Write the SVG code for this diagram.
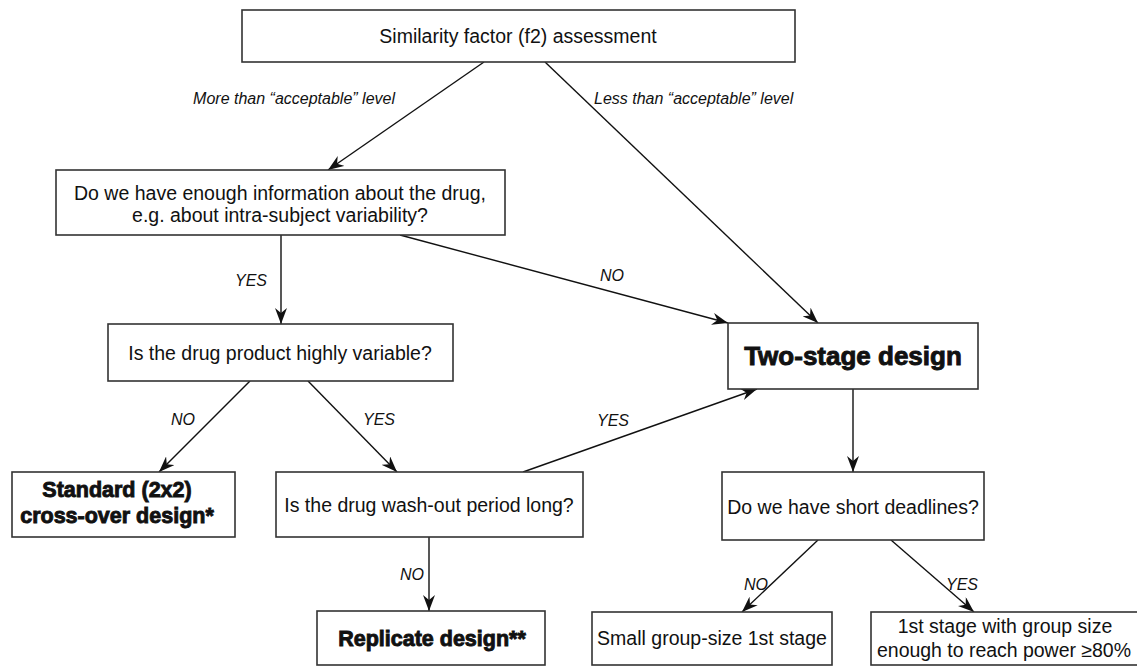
<svg xmlns="http://www.w3.org/2000/svg" width="1137" height="668" viewBox="0 0 1137 668">
<style>
.box{fill:#fff;stroke:#333;stroke-width:1.6}
.t{font-family:"Liberation Sans",Arial,sans-serif;font-size:19.5px;fill:#111;text-anchor:middle}
.b{font-family:"Liberation Sans",Arial,sans-serif;font-size:21.5px;font-weight:bold;fill:#111;stroke:#111;stroke-width:0.9;text-anchor:middle}
.lbl{font-family:"Liberation Sans",Arial,sans-serif;font-size:16px;font-style:italic;fill:#111}
.c{stroke:#111;stroke-width:1.4;fill:none;marker-end:url(#arr)}
</style>
<defs>
<marker id="arr" viewBox="0 0 16 12" refX="16" refY="6" markerWidth="16" markerHeight="12" markerUnits="userSpaceOnUse" orient="auto">
<path d="M0,0 L16,6 L0,12 L5,6 z" fill="#111"/>
</marker>
</defs>
<rect width="1137" height="668" fill="#fff"/>
<g id="connectors">
<line class="c" x1="484" y1="62" x2="328" y2="170"/>
<line class="c" x1="545" y1="62" x2="818" y2="323"/>
<line class="c" x1="281" y1="235" x2="281" y2="324"/>
<line class="c" x1="400" y1="235" x2="728" y2="323"/>
<line class="c" x1="250" y1="381" x2="159" y2="472"/>
<line class="c" x1="308" y1="381" x2="397" y2="472"/>
<line class="c" x1="523" y1="472" x2="757" y2="389"/>
<line class="c" x1="429" y1="537" x2="429" y2="611"/>
<line class="c" x1="853" y1="389" x2="853" y2="472"/>
<line class="c" x1="818" y1="540" x2="742" y2="612"/>
<line class="c" x1="891" y1="540" x2="974" y2="612"/>
<text class="lbl" x="395" y="104" text-anchor="end">More than “acceptable” level</text>
<text class="lbl" x="594" y="104">Less than “acceptable” level</text>
<text class="lbl" x="235" y="286">YES</text>
<text class="lbl" x="600" y="281">NO</text>
<text class="lbl" x="171" y="425">NO</text>
<text class="lbl" x="363" y="425">YES</text>
<text class="lbl" x="597" y="426">YES</text>
<text class="lbl" x="400" y="580">NO</text>
<text class="lbl" x="744" y="590">NO</text>
<text class="lbl" x="946" y="590">YES</text>
</g>
<g id="n-similarity">
<rect class="box" x="242" y="10" width="553" height="52"/>
<text class="t" x="518" y="43">Similarity factor (f2) assessment</text>
</g>
<g id="n-info">
<rect class="box" x="56" y="170" width="449" height="65"/>
<text class="t" x="280" y="200">Do we have enough information about the drug,</text>
<text class="t" x="280" y="222">e.g. about intra-subject variability?</text>
</g>
<g id="n-variable">
<rect class="box" x="108" y="324" width="345" height="57"/>
<text class="t" x="280" y="360">Is the drug product highly variable?</text>
</g>
<g id="n-twostage">
<rect class="box" x="728" y="323" width="250" height="66"/>
<text class="b" x="853" y="365" style="font-size:26px">Two-stage design</text>
</g>
<g id="n-standard">
<rect class="box" x="12" y="472" width="223" height="65"/>
<text class="b" x="117" y="497">Standard (2x2)</text>
<text class="b" x="117" y="523">cross-over design*</text>
</g>
<g id="n-washout">
<rect class="box" x="276" y="472" width="307" height="65"/>
<text class="t" x="429" y="512">Is the drug wash-out period long?</text>
</g>
<g id="n-deadlines">
<rect class="box" x="722" y="472" width="262" height="68"/>
<text class="t" x="853" y="514">Do we have short deadlines?</text>
</g>
<g id="n-replicate">
<rect class="box" x="317" y="611" width="228" height="54"/>
<text class="b" x="432" y="646">Replicate design**</text>
</g>
<g id="n-small">
<rect class="box" x="592" y="612" width="240" height="53"/>
<text class="t" x="712" y="645">Small group-size 1st stage</text>
</g>
<g id="n-power">
<rect class="box" x="871" y="612" width="275" height="53"/>
<text class="t" x="1005" y="633">1st stage with group size</text>
<text class="t" x="877" y="657" style="text-anchor:start" textLength="254" lengthAdjust="spacing">enough to reach power ≥80%</text>
</g>
</svg>
